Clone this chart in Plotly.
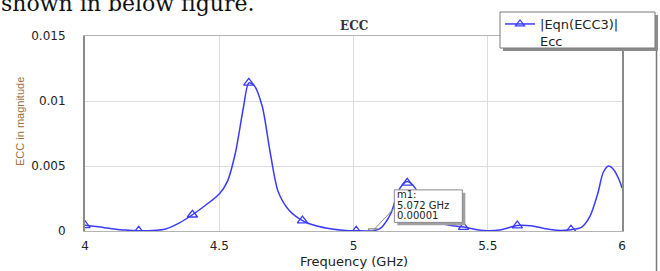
import plotly.graph_objects as go

# ---- data ----
freq_ghz = [4.00, 4.05, 4.10, 4.15, 4.20, 4.25, 4.30, 4.35, 4.40, 4.45,
            4.50, 4.53, 4.56, 4.59, 4.61, 4.63, 4.66, 4.69, 4.72, 4.76,
            4.81, 4.86, 4.92, 4.97, 5.01, 5.07, 5.10, 5.14, 5.17, 5.20,
            5.23, 5.27, 5.32, 5.37, 5.41, 5.46, 5.50, 5.55, 5.61, 5.66,
            5.71, 5.76, 5.81, 5.85, 5.88, 5.91, 5.93, 5.95, 5.97, 5.99, 6.00]
ecc_mag = [0.00044, 0.00032, 0.00018, 0.00007, 0.00002, 0.00003, 0.00015, 0.00060, 0.00125, 0.00200,
           0.00285, 0.00380, 0.00600, 0.00950, 0.01140, 0.01120, 0.00960, 0.00600, 0.00300, 0.00160,
           0.00080, 0.00040, 0.00015, 0.00004, 0.00002, 0.00001, 0.00020, 0.00140, 0.00320, 0.00380,
           0.00330, 0.00150, 0.00065, 0.00040, 0.00030, 0.00010, 0.00002, 0.00010, 0.00042, 0.00040,
           0.00020, 0.00005, 0.00010, 0.00030, 0.00110, 0.00290, 0.00450, 0.00500, 0.00470, 0.00390, 0.00330]

marker_freq = [4.00, 4.20, 4.40, 4.61, 4.81, 5.01, 5.20, 5.41, 5.61, 5.81]
marker_ecc = [0.00044, 0.00002, 0.00125, 0.01140, 0.00080, 0.00002, 0.00370, 0.00030, 0.00042, 0.00010]

m1_freq = [5.072]
m1_ecc = [0.00001]
m1_lines = ["m1:", "5.072 GHz", "0.00001"]

x_ticks = [4, 4.5, 5, 5.5, 6]
x_ticktext = ["4", "4.5", "5", "5.5", "6"]
y_ticks = [0, 0.005, 0.01, 0.015]
y_ticktext = ["0", "0.005", "0.01", "0.015"]

series_name = "|Eqn(ECC3)|<br>Ecc"
blue = "#3b3bff"

fig = go.Figure()
fig.add_trace(go.Scatter(x=freq_ghz, y=ecc_mag, mode="lines",
                         line=dict(color=blue, width=1.5, shape="spline", smoothing=0.8),
                         showlegend=False, hoverinfo="skip"))
fig.add_trace(go.Scatter(x=marker_freq, y=marker_ecc, mode="markers",
                         marker=dict(symbol="triangle-up-open", size=9, color=blue,
                                     line=dict(width=1.3, color=blue)),
                         showlegend=False))
fig.add_trace(go.Scatter(x=[None], y=[None], mode="lines+markers", name=series_name,
                         line=dict(color=blue, width=1.5),
                         marker=dict(symbol="triangle-up-open", size=8, color=blue,
                                     line=dict(width=1.2, color=blue))))
fig.add_trace(go.Scatter(x=m1_freq, y=m1_ecc, mode="markers",
                         marker=dict(symbol="triangle-down-open", size=8, color="#707070",
                                     line=dict(width=1, color="#707070")),
                         showlegend=False))

L, R, T, B = 85, 38, 36, 40
W, H = 660, 271
pw, ph = W - L - R, H - T - B


def px(xp):
    return (xp - L) / pw


def py(yp):
    return (H - B - yp) / ph


shapes = []
# legend shadow + box
shapes.append(dict(type="rect", xref="paper", yref="paper",
                   x0=px(503), x1=px(658), y0=py(51), y1=py(15),
                   fillcolor="#8c8c8c", line=dict(width=0), layer="above"))
shapes.append(dict(type="rect", xref="paper", yref="paper",
                   x0=px(500), x1=px(655), y0=py(48), y1=py(12),
                   fillcolor="white", line=dict(width=1, color="#7a7a7a"), layer="above"))
# outer frame line on the right
shapes.append(dict(type="line", xref="paper", yref="paper",
                   x0=px(656.5), x1=px(656.5), y0=py(271), y1=py(51),
                   line=dict(width=1.5, color="#777777"), layer="above"))
# m1 leader line
shapes.append(dict(type="line", xref="x", yref="y", xsizemode="pixel", ysizemode="pixel",
                   xanchor=m1_freq[0], yanchor=m1_ecc[0],
                   x0=0, x1=21.5, y0=0, y1=23,
                   line=dict(width=1, color="#8a8a8a"), layer="above"))
# m1 marker box shadow + box, anchored at marker point
shapes.append(dict(type="rect", xref="x", yref="y", xsizemode="pixel", ysizemode="pixel",
                   xanchor=m1_freq[0], yanchor=m1_ecc[0],
                   x0=24.5, x1=92.5, y0=5.5, y1=38,
                   fillcolor="#a0a0a0", line=dict(width=0), layer="above"))
shapes.append(dict(type="rect", xref="x", yref="y", xsizemode="pixel", ysizemode="pixel",
                   xanchor=m1_freq[0], yanchor=m1_ecc[0],
                   x0=21.5, x1=89.5, y0=8.5, y1=41,
                   fillcolor="white", line=dict(width=1, color="#8a8a8a"), layer="above"))

annotations = []
for txt, ys in zip(m1_lines, [36, 25.5, 15.5]):
    annotations.append(dict(text=txt, x=m1_freq[0], y=m1_ecc[0], xref="x", yref="y",
                            showarrow=False, xanchor="left", yanchor="middle",
                            xshift=23, yshift=ys, align="left", borderpad=0,
                            font=dict(family="DejaVu Sans", size=10, color="#222222")))
annotations.append(dict(text="<b>ECC</b>", x=0.5, y=py(26), xref="paper", yref="paper",
                        showarrow=False, xanchor="center", yanchor="middle",
                        font=dict(family="DejaVu Serif", size=12, color="#333333"),))
annotations.append(dict(text="ECC in magnitude", x=px(20), y=py(122), xref="paper", yref="paper",
                        showarrow=False, textangle=-90, xanchor="center", yanchor="middle",
                        font=dict(family="Liberation Sans", size=11, color="#a0703a")))
annotations.append(dict(text="Frequency (GHz)", x=0.5, y=py(261), xref="paper", yref="paper",
                        showarrow=False, xanchor="center", yanchor="middle",
                        font=dict(family="DejaVu Sans", size=13, color="#222222")))
annotations.append(dict(text="shown in below figure.", x=px(-1), y=py(18), xref="paper", yref="paper",
                        showarrow=False, xanchor="left", yanchor="bottom",
                        font=dict(family="DejaVu Serif", size=22, color="#111111")))

fig.update_layout(
    width=W, height=H,
    margin=dict(l=L, r=R, t=T, b=B, pad=0, autoexpand=False),
    paper_bgcolor="white", plot_bgcolor="white",
    shapes=shapes, annotations=annotations,
    showlegend=True,
    legend=dict(x=500 / W, y=1 - 9 / H, xref="container", yref="container",
                xanchor="left", yanchor="top", valign="top",
                bgcolor="rgba(0,0,0,0)", borderwidth=0,
                font=dict(family="DejaVu Sans", size=13, color="#222222"),
                tracegroupgap=0),
    xaxis=dict(range=[4, 6], tickvals=x_ticks, ticktext=x_ticktext,
               showgrid=True, gridcolor="#dddddd", gridwidth=1,
               showline=True, linecolor="#b4b4b4", linewidth=1, mirror=True,
               zeroline=False, ticks="", ticklabelstandoff=4,
               tickfont=dict(family="DejaVu Sans", size=12, color="#222222")),
    yaxis=dict(range=[0, 0.015], tickvals=y_ticks, ticktext=y_ticktext,
               showgrid=True, gridcolor="#dddddd", gridwidth=1,
               showline=True, linecolor="#8a8a8a", linewidth=2, mirror=True,
               zeroline=False, ticks="", ticklabelstandoff=15,
               tickfont=dict(family="DejaVu Sans", size=12, color="#222222")),
)

fig.write_html("out.html", config={"displayModeBar": False},
               post_script="document.body.style.margin='0px';document.body.style.overflow='hidden';")
